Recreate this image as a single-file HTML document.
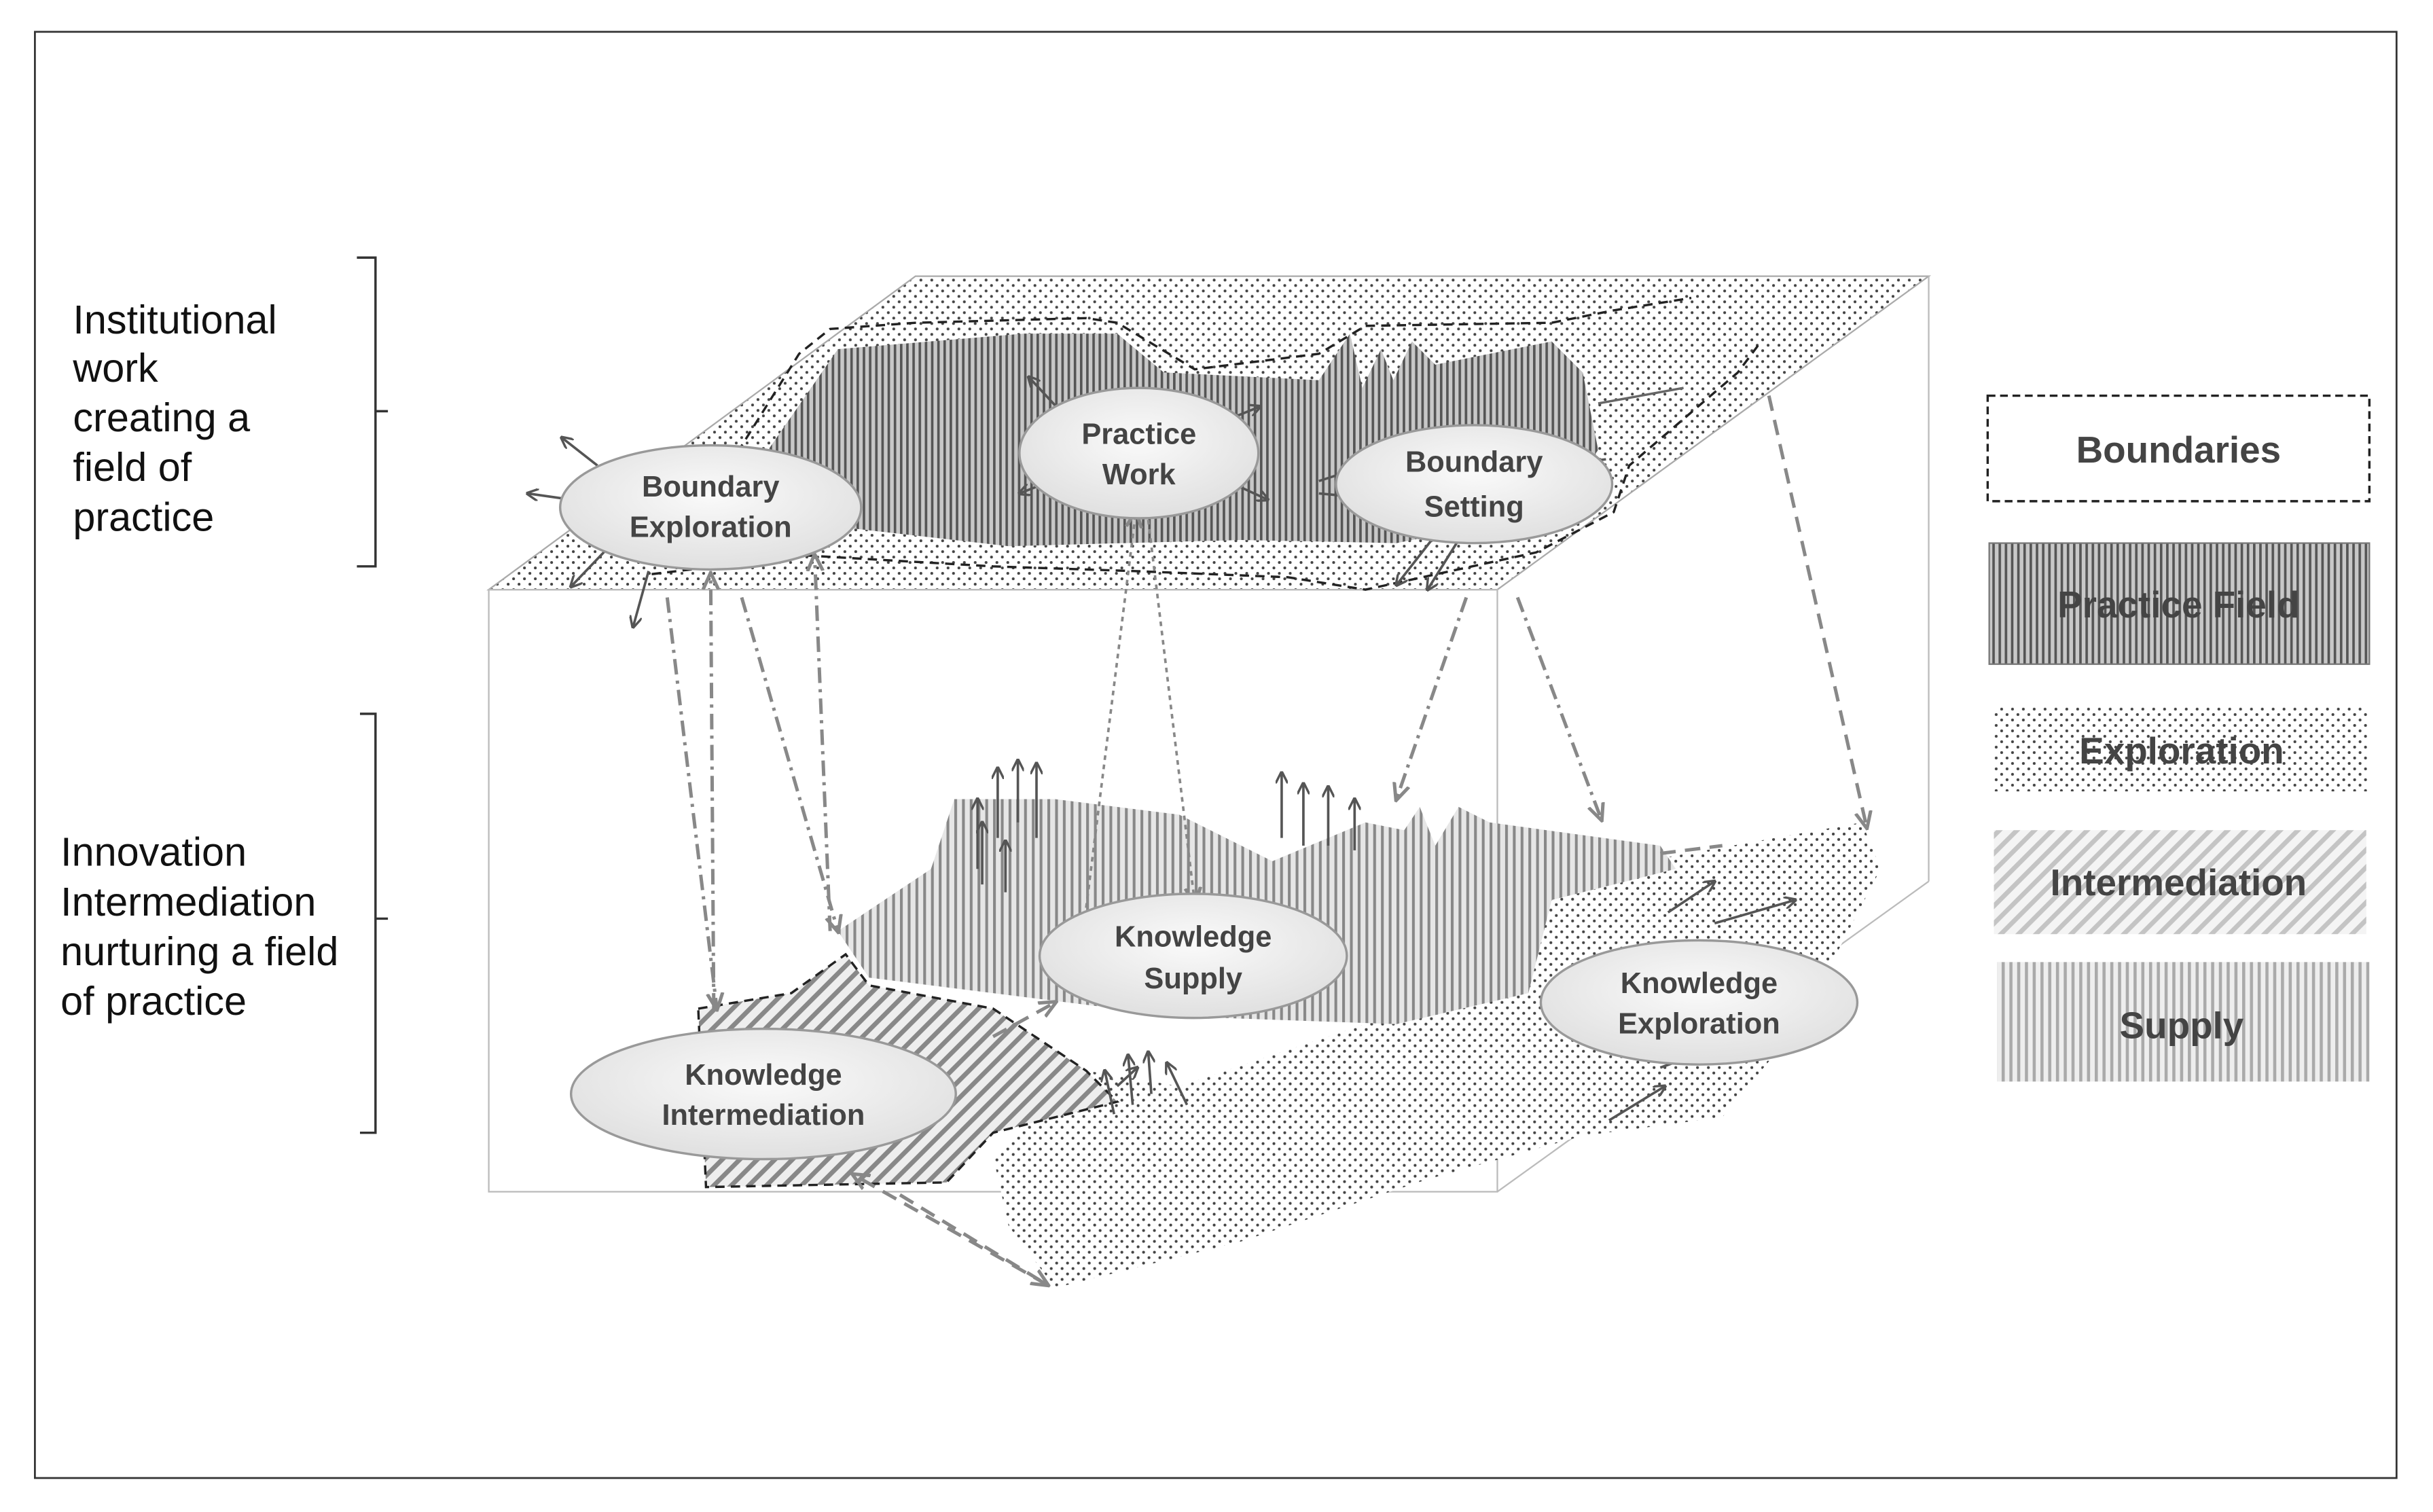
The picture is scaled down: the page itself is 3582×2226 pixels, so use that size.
<!DOCTYPE html>
<html><head><meta charset="utf-8"><style>
html,body{margin:0;padding:0;background:#fff;}
svg{display:block;}
text{font-family:"Liberation Sans",sans-serif;}
</style></head><body>
<svg width="3582" height="2226" viewBox="0 0 1568 974.4" preserveAspectRatio="none" xmlns="http://www.w3.org/2000/svg">
<defs>
<pattern id="dots" width="7" height="7" patternUnits="userSpaceOnUse"><rect width="7" height="7" fill="#fff"/><circle cx="2" cy="2" r="0.9" fill="#444"/><circle cx="5.5" cy="5.5" r="0.9" fill="#444"/></pattern>
<pattern id="vdark" width="4" height="4" patternUnits="userSpaceOnUse"><rect width="4" height="4" fill="#c8c8c8"/><rect width="1.6" height="4" fill="#555"/></pattern>
<pattern id="vlight" width="5" height="5" patternUnits="userSpaceOnUse"><rect width="5" height="5" fill="#e6e6e6"/><rect width="1.8" height="5" fill="#888"/></pattern>
<pattern id="diag" width="8" height="8" patternUnits="userSpaceOnUse" patternTransform="rotate(45)"><rect width="8" height="8" fill="#eee"/><rect width="3" height="8" fill="#888"/></pattern>
<pattern id="diaglight" width="8" height="8" patternUnits="userSpaceOnUse" patternTransform="rotate(45)"><rect width="8" height="8" fill="#f4f4f4"/><rect width="3" height="8" fill="#c4c4c4"/></pattern>
<pattern id="vleg" width="5" height="5" patternUnits="userSpaceOnUse"><rect width="5" height="5" fill="#eee"/><rect width="2" height="5" fill="#aaa"/></pattern>
<radialGradient id="eg" cx="50%" cy="40%" r="60%"><stop offset="0" stop-color="#fafafa"/><stop offset="1" stop-color="#e0e0e0"/></radialGradient>
<marker id="ah" markerWidth="8" markerHeight="8" refX="7" refY="4" orient="auto" markerUnits="userSpaceOnUse"><path d="M0,0 L8,4 L0,8" fill="none" stroke="#555" stroke-width="1.5"/></marker>
<marker id="ahg" markerWidth="12" markerHeight="12" refX="10" refY="6" orient="auto" markerUnits="userSpaceOnUse"><path d="M0,1 L11,6 L0,11" fill="none" stroke="#888" stroke-width="2.2"/></marker>
</defs>
<rect x="0" y="0" width="1568" height="974.4" fill="#fff"/>
<rect x="22.5" y="20.5" width="1522" height="932" fill="none" stroke="#333" stroke-width="1.2"/>

<polygon points="315,380 590,178 1243,178 965,380" fill="url(#dots)" stroke="#aaa" stroke-width="1"/>
<rect x="315" y="380" width="650" height="388" fill="none" stroke="#bbb"/>
<line x1="1243" y1="178" x2="1243" y2="568" stroke="#bbb"/>
<line x1="965" y1="768" x2="1243" y2="568" stroke="#bbb"/>

<polygon points="495,290 540,225 660,215 720,215 750,240 850,245 870,215 878,250 890,225 898,245 910,220 925,235 1000,220 1020,240 1030,290 1000,330 900,350 800,348 650,352 545,340" fill="url(#vdark)"/>
<polyline points="470,300 515,228 535,212 590,208 700,205 720,208 770,238 850,228 880,210 1000,208 1040,200 1090,192" fill="none" stroke="#222" stroke-width="1.5" stroke-dasharray="6,4"/>
<polyline points="420,370 520,358 640,365 730,368 830,372 880,380 990,356 1040,330 1050,300 1120,240 1135,220" fill="none" stroke="#222" stroke-width="1.5" stroke-dasharray="6,4"/>
<line x1="1030" y1="260" x2="1085" y2="250" stroke="#666" stroke-width="1.5"/>

<polygon points="640,745 700,690 760,700 880,660 985,640 990,580 1020,570 1060,555 1200,530 1212,560 1160,660 1110,720 1020,732 920,760 800,800 680,830 650,790" fill="url(#dots)"/>
<polygon points="540,600 600,560 615,515 680,515 760,525 820,555 880,530 905,535 915,520 925,545 940,520 960,530 1070,545 1080,560 1000,580 985,640 900,660 760,655 640,640 560,630" fill="url(#vlight)"/>
<polygon points="450,650 510,640 545,615 560,635 640,650 700,690 720,710 640,730 610,762 455,765" fill="url(#diag)" stroke="#222" stroke-width="1.5" stroke-dasharray="6,4"/>

<path d="M230,166 L242,166 L242,265 L250,265 M242,265 L242,365 L230,365" fill="none" stroke="#333" stroke-width="1.5"/>
<path d="M232,460 L242,460 L242,592 L250,592 M242,592 L242,730 L232,730" fill="none" stroke="#333" stroke-width="1.5"/>
<g font-size="26" fill="#111">
<text x="47" y="215">Institutional</text><text x="47" y="246">work</text><text x="47" y="278">creating a</text><text x="47" y="310">field of</text><text x="47" y="342">practice</text>
<text x="39" y="558">Innovation</text><text x="39" y="590">Intermediation</text><text x="39" y="622">nurturing a field</text><text x="39" y="654">of practice</text>
</g>

<rect x="1281" y="255" width="246" height="68" fill="#fff" stroke="#222" stroke-width="1.5" stroke-dasharray="5,3"/>
<rect x="1282" y="350" width="245" height="78" fill="url(#vdark)" stroke="#777"/>
<rect x="1285" y="455" width="242" height="55" fill="url(#dots)"/>
<rect x="1285" y="535" width="240" height="67" fill="url(#diaglight)"/>
<rect x="1287" y="620" width="240" height="77" fill="url(#vleg)"/>
<g font-size="24" font-weight="bold" fill="#444" text-anchor="middle">
<text x="1404" y="298">Boundaries</text><text x="1404" y="398">Practice Field</text><text x="1406" y="492">Exploration</text><text x="1404" y="577">Intermediation</text><text x="1406" y="669">Supply</text>
</g>

<g fill="none" stroke="#888" stroke-width="2.2" stroke-dasharray="10,4,2,4">
<line x1="430" y1="385" x2="462" y2="650" marker-end="url(#ahg)"/>
<line x1="460" y1="650" x2="458" y2="370" marker-end="url(#ahg)"/>
<line x1="478" y1="385" x2="540" y2="600" marker-end="url(#ahg)"/>
<line x1="535" y1="600" x2="525" y2="358" marker-end="url(#ahg)"/>
<line x1="945" y1="385" x2="900" y2="515" marker-end="url(#ahg)"/>
<line x1="978" y1="385" x2="1032" y2="528" marker-end="url(#ahg)"/>
</g>
<g fill="none" stroke="#888" stroke-width="1.6" stroke-dasharray="3,3">
<line x1="700" y1="585" x2="732" y2="330" marker-end="url(#ahg)"/>
<line x1="740" y1="335" x2="770" y2="582" marker-end="url(#ahg)"/>
</g>
<g fill="none" stroke="#888" stroke-width="2.2" stroke-dasharray="10,6">
<line x1="1140" y1="255" x2="1203" y2="533" marker-end="url(#ahg)"/>
<line x1="580" y1="770" x2="675" y2="828" marker-end="url(#ahg)"/>
<line x1="675" y1="828" x2="550" y2="757" marker-end="url(#ahg)"/>
<line x1="640" y1="668" x2="680" y2="646" marker-end="url(#ahg)"/>
<line x1="690" y1="640" x2="730" y2="622" marker-end="url(#ahg)"/>
<line x1="1070" y1="550" x2="1110" y2="545"/>
</g>

<g fill="none" stroke="#555" stroke-width="1.6" marker-end="url(#ah)">
<line x1="385" y1="300" x2="362" y2="282"/><line x1="368" y1="322" x2="340" y2="318"/><line x1="390" y1="355" x2="368" y2="378"/><line x1="418" y1="368" x2="408" y2="404"/>
<line x1="690" y1="272" x2="663" y2="243"/><line x1="780" y1="275" x2="812" y2="262"/><line x1="690" y1="305" x2="657" y2="318"/><line x1="780" y1="305" x2="817" y2="322"/>
<line x1="850" y1="310" x2="893" y2="296"/><line x1="850" y1="318" x2="893" y2="322"/><line x1="1040" y1="308" x2="1003" y2="315"/><line x1="1035" y1="296" x2="1002" y2="300"/>
<line x1="925" y1="345" x2="900" y2="377"/><line x1="940" y1="348" x2="920" y2="380"/>
<line x1="630" y1="560" x2="630" y2="515"/><line x1="643" y1="540" x2="643" y2="495"/><line x1="656" y1="530" x2="656" y2="490"/><line x1="668" y1="540" x2="668" y2="492"/><line x1="633" y1="570" x2="633" y2="530"/><line x1="648" y1="575" x2="648" y2="542"/>
<line x1="826" y1="540" x2="826" y2="498"/><line x1="840" y1="545" x2="840" y2="505"/><line x1="856" y1="545" x2="856" y2="507"/><line x1="873" y1="548" x2="873" y2="515"/>
<line x1="718" y1="718" x2="712" y2="690"/><line x1="730" y1="712" x2="727" y2="680"/><line x1="742" y1="705" x2="740" y2="678"/><line x1="765" y1="712" x2="752" y2="685"/><line x1="720" y1="700" x2="733" y2="688"/>
<line x1="1075" y1="588" x2="1105" y2="568"/><line x1="1105" y1="595" x2="1157" y2="580"/><line x1="1070" y1="688" x2="1115" y2="672"/><line x1="1037" y1="722" x2="1073" y2="700"/>
</g>

<g fill="url(#eg)" stroke="#999" stroke-width="1.5">
<ellipse cx="458" cy="327" rx="97" ry="40"/>
<ellipse cx="734" cy="292" rx="77" ry="42"/>
<ellipse cx="950" cy="312" rx="89" ry="38"/>
<ellipse cx="769" cy="616" rx="99" ry="40"/>
<ellipse cx="1095" cy="646" rx="102" ry="40"/>
<ellipse cx="492" cy="705" rx="124" ry="42"/>
</g>
<g font-size="19" font-weight="bold" fill="#444" text-anchor="middle">
<text x="458" y="320">Boundary</text><text x="458" y="346">Exploration</text>
<text x="734" y="286">Practice</text><text x="734" y="312">Work</text>
<text x="950" y="304">Boundary</text><text x="950" y="333">Setting</text>
<text x="769" y="610">Knowledge</text><text x="769" y="637">Supply</text>
<text x="1095" y="640">Knowledge</text><text x="1095" y="666">Exploration</text>
<text x="492" y="699">Knowledge</text><text x="492" y="725">Intermediation</text>
</g>
</svg>
</body></html>
